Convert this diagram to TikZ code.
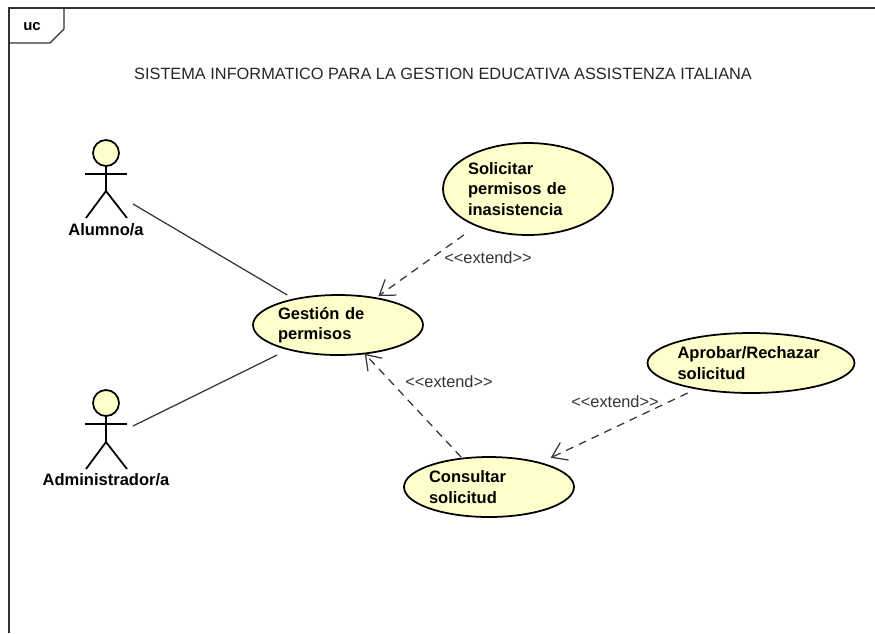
\documentclass[tikz,border=0pt]{standalone}
\usepackage{fontspec}
\setmainfont{Liberation Sans}
\usetikzlibrary{arrows.meta,shapes.geometric}
\definecolor{casefill}{rgb}{1,1,0.8}
\tikzset{
    usecase/.style={ellipse,draw=black,fill=casefill,line width=1pt,inner sep=0pt},
    casebox/.style={rectangle,align=left,inner xsep=0.5cm,inner ysep=0pt,outer sep=0pt,font=\fontsize{9.4}{11.6}\selectfont\bfseries},
    actorname/.style={inner sep=0pt,font=\fontsize{9.4}{11}\selectfont\bfseries},
    actorline/.style={color=black,line width=1pt},
    extendlabel/.style={inner sep=0pt,color=black!80,font=\fontsize{9.3}{11}\selectfont},
    extendline/.style={dash pattern=on 4.5pt off 3.5pt,color=black!80,line width=0.7pt,shorten >=-1pt,-{Straight Barb[length=8pt,width=11pt]}}
}
\begin{document}
\begin{tikzpicture}[x=0.02cm,y=-0.02cm]
    \useasboundingbox (0,0) rectangle (875,633);
    % Marco
    \draw[color=black!80,line width=0.7pt] (875,8) -- (9,8) -- (9,633);
    \draw[color=black!80,line width=0.7pt] (9,43) -- (50,43) -- (64,29) -- (64,8);
    \node[inner sep=0pt,font=\fontsize{8.5}{11}\selectfont\bfseries] (uc) at (32,27) {uc};
    % Titulo
    \node[inner sep=0pt,color=black!85,font=\fontsize{9.3}{11}\selectfont] (titulo) at (443,74) {SISTEMA INFORMATICO PARA LA GESTION EDUCATIVA ASSISTENZA ITALIANA};
    % Actor alumno
    \draw[actorline,fill=casefill] (106,153) circle (13);
    \draw[actorline] (106,166) -- (106,191);
    \draw[actorline] (85,174) -- (127,174);
    \draw[actorline] (86,218) -- (106,191) -- (127,218);
    \node[actorname] (alumno) at (106,230) {Alumno/a};
    \coordinate (alumnoside) at (133,204);
    % Actor administrador
    \draw[actorline,fill=casefill] (106,403) circle (13);
    \draw[actorline] (106,416) -- (106,442);
    \draw[actorline] (85,424) -- (127,424);
    \draw[actorline] (86,469) -- (106,442) -- (127,469);
    \node[actorname] (admin) at (106,480) {Administrador/a};
    \coordinate (adminside) at (133,426);
    % Casos de uso
    \node[usecase,minimum width=3.4cm,minimum height=1.84cm] (solicitarforma) at (528,189) {};
    \node[casebox,text width=2.4cm,minimum height=1.84cm] (solicitar) at (528,189) {Solicitar\\permisos de\\inasistencia};
    \node[usecase,minimum width=3.4cm,minimum height=1.2cm] (gestionforma) at (338,325) {};
    \node[casebox,text width=2.4cm,minimum height=1.2cm] (gestion) at (338,325) {Gestión de\\permisos};
    \node[usecase,minimum width=3.4cm,minimum height=1.2cm] (consultarforma) at (489,487) {};
    \node[casebox,text width=2.4cm,minimum height=1.2cm] (consultar) at (489,487) {Consultar\\solicitud};
    \node[usecase,minimum width=4.14cm,minimum height=1.2cm] (aprobarforma) at (751,363) {};
    \node[casebox,inner xsep=0.6cm,text width=2.94cm,minimum height=1.2cm] (aprobar) at (751,363) {Aprobar/Rechazar\\solicitud};
    % Asociaciones
    \draw[color=black!80,line width=0.7pt] (alumnoside) -- (gestion);
    \draw[color=black!80,line width=0.7pt] (adminside) -- (gestion);
    % Extensiones
    \draw[extendline] (solicitar) -- (gestion);
    \node[extendlabel] (extuno) at (488,258) {<{}<extend>{}>};
    \draw[extendline] (consultar) -- (gestion);
    \node[extendlabel] (extdos) at (449,382) {<{}<extend>{}>};
    \draw[extendline] (aprobar) -- (consultar);
    \node[extendlabel] (exttres) at (615,402) {<{}<extend>{}>};
\end{tikzpicture}
\end{document}
